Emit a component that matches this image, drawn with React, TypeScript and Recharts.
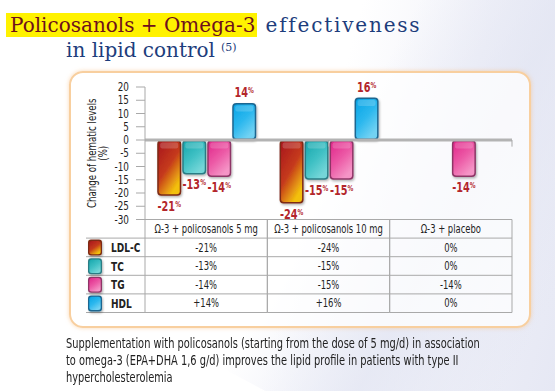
import React from 'react';
import { BarChart, Bar, XAxis, YAxis, ReferenceLine, LabelList } from 'recharts';

const categories = ['Ω-3 + policosanols 5 mg', 'Ω-3 + policosanols 10 mg', 'Ω-3 + placebo'];
const ldlc = [-21, -24, 0];
const tc = [-13, -15, 0];
const tg = [-14, -15, -14];
const hdl = [14, 16, 0];
const seriesKeys = ['ldlc', 'tc', 'tg', 'hdl'];
const seriesNames = ['LDL-C', 'TC', 'TG', 'HDL'];
const seriesValues = [ldlc, tc, tg, hdl];
const yTicks = [20, 15, 10, 5, 0, -5, -10, -15, -20, -25, -30];
const boundaries = [1, 2, 3];

const data = categories.map((cat, i) => ({
  cat,
  ldlc: ldlc[i],
  tc: tc[i],
  tg: tg[i],
  hdl: hdl[i],
}));

const W = 555;
const H = 391;
const M = { top: 87, right: 43, bottom: 76.5, left: 60 };
const YW = 85;
const XH = 95;
const PLOT_W = W - M.left - M.right - YW;
const HALF = PLOT_W / categories.length / 2;
const ROW_H = 18.6;
const LEGEND_W = 59;

const NARROW = "'DejaVu Sans Condensed', 'DejaVu Sans', sans-serif";

const palette = [
  { edge: '#7c2a12', stops: ['#a8161d', '#c53a1b', '#f3c00f'] },
  { edge: '#2a7c84', stops: ['#17a7ad', '#3fc0c4', '#74d6d8'] },
  { edge: '#8e3566', stops: ['#e0268a', '#ec5aa6', '#f594c6'] },
  { edge: '#1d6690', stops: ['#07a4e6', '#2db8ee', '#72d2f3'] },
];

const fmt = (v: number) => (v > 0 ? `+${v}%` : `${v}%`);

const SText = (props: any) => {
  const { x, y, sx, children, ...rest } = props;
  return (
    <text transform={`translate(${x} ${y}) scale(${sx} 1)`} x={0} y={0} fontFamily={NARROW} {...rest}>
      {children}
    </text>
  );
};

const BarShape = (idx: number) => (props: any) => {
  const { x, y, width, height } = props;
  if (!height || Math.abs(height) < 0.5) return null;
  const top = Math.min(y, y + height);
  const h = Math.abs(height);
  return (
    <g filter="url(#shadow)">
      <rect x={x} y={top} width={width} height={h} rx={4} ry={4} fill={palette[idx].edge} />
      <rect x={x + 1.5} y={top + 1.5} width={width - 3} height={h - 3} rx={3} ry={3} fill={`url(#grad${idx})`} />
      <rect x={x + 3} y={top + 2.5} width={width - 6} height={Math.min(6, h - 5)} rx={2} ry={2} fill="#ffffff" opacity={0.18} />
    </g>
  );
};

const BarLabel = (props: any) => {
  const { x, y, width, height, value } = props;
  if (!value) return null;
  const top = Math.min(y, y + height);
  const bottom = Math.max(y, y + height);
  const cx = x + width / 2;
  const ty = value < 0 ? bottom + 15 : top - 6;
  return (
    <SText x={cx} y={ty} sx={0.8} textAnchor="middle" fill="#b3262b" fontWeight="bold" fontSize={13.5}>
      {value}
      <tspan fontSize={8} dy={-4}>%</tspan>
    </SText>
  );
};

const Swatch = ({ x, y, idx }: { x: number; y: number; idx: number }) => (
  <g filter="url(#shadow)">
    <rect x={x} y={y} width={14} height={16} rx={3} ry={3} fill={palette[idx].edge} />
    <rect x={x + 1.3} y={y + 1.3} width={11.4} height={13.4} rx={2.5} ry={2.5} fill={`url(#grad${idx})`} />
  </g>
);

const TableTick = (props: any) => {
  const { x, y, payload, index } = props;
  const left = x - HALF;
  const right = x + HALF;
  const lineColor = '#a9a9a9';
  const rows = [0, 1, 2, 3, 4];
  return (
    <g>
      <line x1={left} y1={y} x2={left} y2={y + ROW_H * 5} stroke={lineColor} strokeWidth={1} />
      <line x1={right} y1={y} x2={right} y2={y + ROW_H * 5} stroke={lineColor} strokeWidth={1} />
      {rows.map((k) => (
        <line key={k} x1={index === 0 ? left - LEGEND_W : left} y1={y + ROW_H * (k + 1)} x2={right} y2={y + ROW_H * (k + 1)} stroke={lineColor} strokeWidth={1} />
      ))}
      <SText x={x} y={y + 13} sx={0.78} textAnchor="middle" fontSize={12} fill="#222">
        {payload.value}
      </SText>
      {seriesValues.map((vals, s) => (
        <SText key={s} x={x} y={y + ROW_H * (s + 1) + 13.5} sx={0.78} textAnchor="middle" fontSize={12} fill="#222">
          {fmt(vals[index])}
        </SText>
      ))}
      {index === 0 &&
        seriesNames.map((name, s) => (
          <g key={name}>
            <Swatch x={left - LEGEND_W + 2} y={y + ROW_H * (s + 1) + 1.5} idx={s} />
            <SText x={left - LEGEND_W + 25} y={y + ROW_H * (s + 1) + 14} sx={0.8} fontSize={12.5} fontWeight="bold" fill="#222">
              {name}
            </SText>
          </g>
        ))}
    </g>
  );
};

const YTick = (props: any) => {
  const { x, y, payload } = props;
  return (
    <SText x={x} y={y + 4} sx={0.82} textAnchor="end" fontSize={12} fill="#222">
      {payload.value}
    </SText>
  );
};

const YLabel = (props: any) => {
  const { viewBox } = props;
  const cy = viewBox.y + viewBox.height / 2;
  const x1 = viewBox.x + 36;
  const x2 = viewBox.x + 47;
  return (
    <g fontFamily={NARROW} fontSize={12} fill="#222">
      <text transform={`translate(${x1} ${cy}) rotate(-90) scale(0.8 1)`} x={0} y={0} textAnchor="middle">
        Change of hematic levels
      </text>
      <text transform={`translate(${x2} ${cy}) rotate(-90) scale(0.8 1)`} x={0} y={0} textAnchor="middle">
        (%)
      </text>
    </g>
  );
};

export default function App() {
  return (
    <div
      style={{
        position: 'fixed',
        left: 0,
        top: 0,
        width: W,
        height: H,
        overflow: 'hidden',
        background: 'linear-gradient(105deg, #ffffff 0%, #ffffff 55%, #f1f2f9 75%, #e6e8f4 100%)',
      }}
    >
      <div
        style={{
          position: 'absolute',
          left: 330,
          top: -60,
          width: 260,
          height: 520,
          transform: 'rotate(28deg)',
          background: 'linear-gradient(90deg, rgba(225,228,242,0) 0%, rgba(225,228,242,0.7) 50%, rgba(225,228,242,0) 100%)',
        }}
      />
      <div
        style={{
          position: 'absolute',
          left: 0,
          top: 0,
          fontFamily: "'DejaVu Serif', serif",
          fontSize: 20,
          lineHeight: '25px',
          whiteSpace: 'nowrap',
        }}
      >
        <div style={{ position: 'absolute', left: 6, top: 13, whiteSpace: 'nowrap' }}>
          <span style={{ background: '#fff200', color: '#6e0f1c', padding: '0 2px 0 4px' }}>Policosanols + Omega-3</span>
          <span style={{ color: '#1d3d7c', letterSpacing: 1.8 }}> effectiveness</span>
        </div>
        <div style={{ position: 'absolute', left: 66, top: 38, color: '#1d3d7c', whiteSpace: 'nowrap' }}>
          in lipid control
          <span style={{ fontSize: 11, verticalAlign: 'top', position: 'relative', top: -3, marginLeft: 6 }}>(5)</span>
        </div>
      </div>
      <div
        style={{
          position: 'absolute',
          left: 69,
          top: 71,
          width: 458,
          height: 253,
          border: '2px solid #f8cf9f',
          borderRadius: 14,
          boxShadow: '0 0 4px rgba(248,190,130,0.6)',
          background: 'rgba(255,255,255,0.75)',
        }}
      />
      <div style={{ position: 'absolute', left: 0, top: 0 }}>
        <BarChart width={W} height={H} data={data} margin={M} barCategoryGap="10%" barGap={1}>
          <defs>
            {palette.map((p, i) => (
              <linearGradient key={i} id={`grad${i}`} x1="0" y1="0" x2="0.6" y2="1">
                <stop offset="0%" stopColor={p.stops[0]} />
                <stop offset="55%" stopColor={p.stops[1]} />
                <stop offset="100%" stopColor={p.stops[2]} />
              </linearGradient>
            ))}
            <filter id="shadow" x="-30%" y="-30%" width="160%" height="160%">
              <feDropShadow dx="1" dy="1.5" stdDeviation="1.2" floodColor="#000" floodOpacity="0.3" />
            </filter>
          </defs>
          <XAxis
            dataKey="cat"
            height={XH}
            tick={<TableTick />}
            tickLine={false}
            tickSize={0}
            tickMargin={0}
            axisLine={{ stroke: '#a9a9a9' }}
            interval={0}
          />
          <XAxis xAxisId="num" type="number" domain={[0, categories.length]} hide allowDataOverflow />
          <YAxis
            width={YW}
            domain={[-30, 20]}
            ticks={yTicks}
            interval={0}
            tickSize={9}
            tickMargin={7}
            tick={<YTick />}
            tickLine={{ stroke: '#a9a9a9' }}
            axisLine={{ stroke: '#a9a9a9' }}
            label={{ content: <YLabel /> }}
          />
          <ReferenceLine y={0} xAxisId="num" stroke="#b3b3b3" strokeWidth={3} />
          {boundaries.map((b) => (
            <ReferenceLine
              key={b}
              xAxisId="num"
              segment={[
                { x: b, y: 0 },
                { x: b, y: -2.5 },
              ]}
              stroke="#a9a9a9"
              strokeWidth={1}
            />
          ))}
          {seriesKeys.map((k, i) => (
            <Bar key={k} dataKey={k} name={seriesNames[i]} shape={BarShape(i)} isAnimationActive={false}>
              <LabelList dataKey={k} content={<BarLabel />} />
            </Bar>
          ))}
        </BarChart>
      </div>
      <div
        style={{
          position: 'absolute',
          left: 66,
          top: 335,
          fontFamily: NARROW,
          fontSize: 13.5,
          lineHeight: '17px',
          color: '#222',
          whiteSpace: 'nowrap',
          transform: 'scaleX(0.81)',
          transformOrigin: '0 0',
        }}
      >
        Supplementation with policosanols (starting from the dose of 5 mg/d) in association
        <br />
        to omega-3 (EPA+DHA 1,6 g/d) improves the lipid profile in patients with type II
        <br />
        hypercholesterolemia
      </div>
    </div>
  );
}
